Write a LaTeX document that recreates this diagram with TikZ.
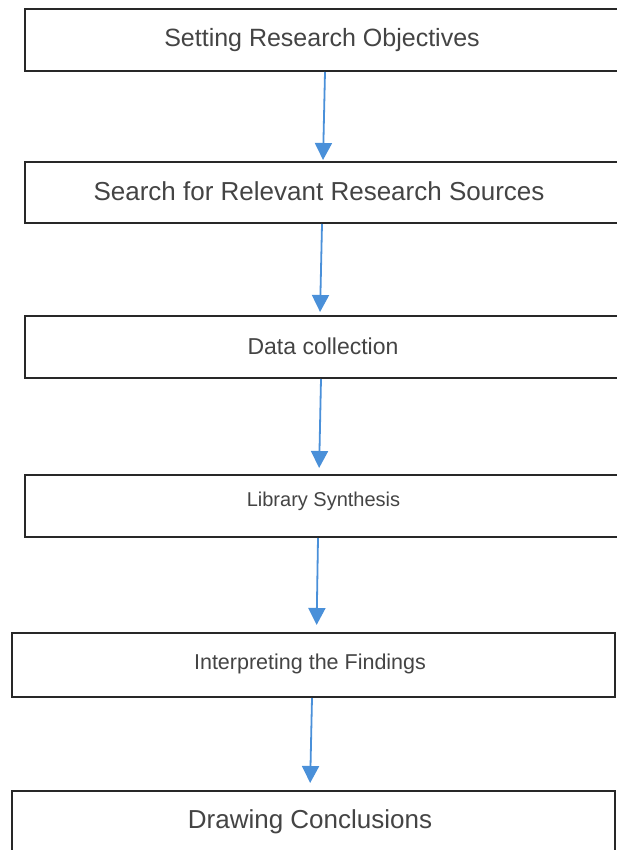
\documentclass[tikz,border=0pt]{standalone}
\usepackage{fontspec}
\setmainfont{Liberation Sans}
\usetikzlibrary{arrows.meta}
\definecolor{arrowblue}{RGB}{74,144,217}
\definecolor{txtgray}{RGB}{68,68,68}
\definecolor{boxline}{RGB}{40,40,40}
\begin{document}
\begin{tikzpicture}[x=1pt,y=-1pt,
  stepbox/.style={draw=boxline,line width=2pt,fill=white,rectangle,inner sep=0pt},
  txt/.style={text=txtgray,inner sep=0pt,anchor=center},
  arr/.style={draw=arrowblue,line width=1.8pt,-{Triangle[width=17pt,length=17pt]}}]
\useasboundingbox (0,0) rectangle (617,850);
\clip (0,0) rectangle (617,850);
\fill[white] (0,0) rectangle (617,850);
% boxes
\node[stepbox,minimum width=600pt,minimum height=62pt] (b1) at (325,40) {};
\node[stepbox,minimum width=600pt,minimum height=61pt] (b2) at (325,192.5) {};
\node[stepbox,minimum width=600pt,minimum height=62pt] (b3) at (325,347) {};
\node[stepbox,minimum width=600pt,minimum height=62pt] (b4) at (325,506) {};
\node[stepbox,minimum width=603pt,minimum height=64pt] (b5) at (313.5,665) {};
\node[stepbox,minimum width=603pt,minimum height=80pt] (b6) at (313.5,831) {};
% texts
\node[txt,font=\fontsize{25}{30}\selectfont] (t1) at (322,40) {Setting Research Objectives};
\node[txt,font=\fontsize{26}{31}\selectfont] (t2) at (319,191) {Search for Relevant Research Sources};
\node[txt,font=\fontsize{23}{28}\selectfont] (t3) at (323,346) {Data collection};
\node[txt,font=\fontsize{20}{24}\selectfont] (t4) at (323.5,501) {Library Synthesis};
\node[txt,font=\fontsize{21.5}{26}\selectfont] (t5) at (310,664) {Interpreting the Findings};
\node[txt,font=\fontsize{26}{31}\selectfont] (t6) at (310,822) {Drawing Conclusions};
% arrows
\draw[arr,shorten >=1pt] (b1.south) -- ([xshift=-2pt]b2.north);
\draw[arr,shorten >=3pt] ([xshift=-3pt]b2.south) -- ([xshift=-5pt]b3.north);
\draw[arr,shorten >=6pt] ([xshift=-4pt]b3.south) -- ([xshift=-6pt]b4.north);
\draw[arr,shorten >=7pt] ([xshift=-7pt]b4.south) -- ([xshift=3pt]b5.north);
\draw[arr,shorten >=7pt] ([xshift=-1.5pt]b5.south) -- ([xshift=-3.5pt]b6.north);
\end{tikzpicture}
\end{document}
